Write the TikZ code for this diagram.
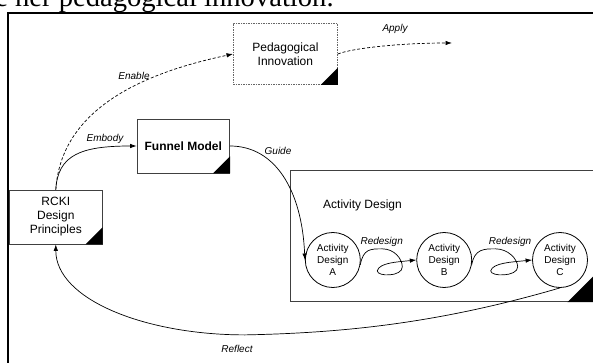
\documentclass[tikz,border=0pt]{standalone}
\usepackage{fontspec}
\setmainfont{Liberation Sans}
\newfontfamily\timesfont{Liberation Serif}
\usetikzlibrary{arrows.meta}

\begin{document}
\begin{tikzpicture}[x=1pt,y=1pt,
	box/.style={draw=black!75,line width=0.8pt,fill=white,align=center,inner sep=0pt,font=\fontsize{12}{14}\selectfont},
	stage/.style={draw,circle,line width=0.8pt,minimum size=55pt,inner sep=0pt,align=center,font=\fontsize{10}{11.7}\selectfont,fill=white},
	lbl/.style={font=\fontsize{10}{12}\selectfont\itshape,inner sep=0pt},
	link/.style={line width=0.7pt,-{Latex[length=6.5pt,width=4.5pt]}},
	dashlink/.style={link,dash pattern=on 3pt off 2pt}]
	\useasboundingbox (0,0) rectangle (593,-363);
	\clip (0,0) rectangle (593,-363);
	\node[anchor=base west,inner sep=0pt,font=\timesfont\fontsize{28.6}{30}\selectfont] (caption) at (-4.9,-6.5) {e her pedagogical innovation.};
	\draw[line width=2pt] (8.3,-363) -- (8.3,-13) -- (594,-13);
	\node[box,draw=black!60,dash pattern=on 1.5pt off 1pt,minimum width=104pt,minimum height=61pt] (ped) at (285.4,-54) {Pedagogical\\Innovation};
	\node[box,minimum width=92.6pt,minimum height=54pt] (funnel) at (183.3,-146) {\textbf{Funnel Model}};
	\node[box,minimum width=92.7pt,minimum height=54pt] (rcki) at (55.8,-217) {RCKI\\Design\\Principles};
	\node[box,minimum width=303.5pt,minimum height=131pt] (actbox) at (442.25,-236.2) {};
	\foreach \n/\s in {ped/17,funnel/17,rcki/17,actbox/27}
		\fill (\n.south east) -- ++(-\s,0) -- ++(\s,\s) -- cycle;
	\node[font=\fontsize{12}{14}\selectfont,inner sep=0pt] (actlabel) at (362.5,-205) {Activity Design};
	\node[stage] (A) at (332.8,-260) {Activity\\Design\\A};
	\node[stage] (B) at (444.2,-260) {Activity\\Design\\B};
	\node[stage] (C) at (560,-260) {Activity\\Design\\C};
	\coordinate (applyend) at (452,-43);
	\draw[link] (rcki.north) .. controls +(2,35) and +(-55,0) .. (funnel.west);
	\draw[dashlink] (rcki.north) .. controls +(6,90) and +(-70,-15) .. (ped.west);
	\draw[dashlink] (ped.east) .. controls +(15,6) and +(-50,0) .. (applyend);
	\draw[link] (funnel.east) .. controls +(45,0) and +(-3,70) .. (A.west);
	\draw[link] (A.-10) .. controls +(3,16) and +(-12,0) .. ++(22,16) .. controls +(12,0) and +(0,8) .. ++(20,-18) .. controls +(0,-10) and +(0,-6) .. ++(-25,-4) .. controls +(2,8) and +(-20,-2) .. (B.west);
	\draw[link] (B.-10) .. controls +(3,16) and +(-12,0) .. ++(24,16) .. controls +(12,0) and +(0,8) .. ++(22,-18) .. controls +(0,-10) and +(0,-6) .. ++(-27,-4) .. controls +(2,8) and +(-20,-2) .. (C.west);
	\draw[link] (C.south) .. controls +(-120,-35) and +(100,2) .. ++(-315,-47) .. controls +(-100,0) and +(0,-55) .. (rcki.south);
	\node[lbl] (enable) at (134,-76) {Enable};
	\node[lbl] (embody) at (105,-139) {Embody};
	\node[lbl] (apply) at (395,-29) {Apply};
	\node[lbl] (guide) at (278,-151) {Guide};
	\node[lbl] (redesign1) at (381.7,-241.7) {Redesign};
	\node[lbl] (redesign2) at (510,-241.7) {Redesign};
	\node[lbl] (reflect) at (237,-349) {Reflect};
\end{tikzpicture}
\end{document}
